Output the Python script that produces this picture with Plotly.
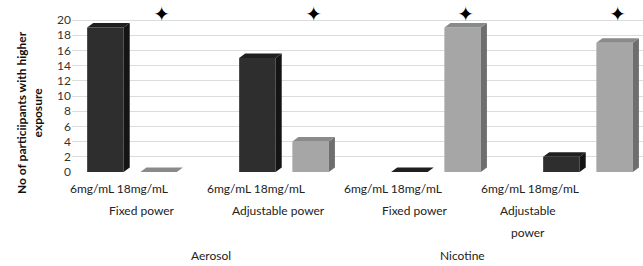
import plotly.graph_objects as go

groups = ["Fixed power", "Adjustable power", "Fixed power", "Adjustable power"]
concentrations = ["6mg/mL", "18mg/mL"]
values_6mg = [19, 15, 0, 2]
values_18mg = [0, 4, 19, 17]
measures = ["Aerosol", "Nicotine"]
star_groups = [0, 1, 2, 3]  # significance stars above 18mg/mL bars
yticks = [0, 2, 4, 6, 8, 10, 12, 14, 16, 18, 20]

W, H = 643, 266
ML, MT, MB = 72, 12, 94
PX_PER_UNIT = 7.6
GROUP_PX = 152.0
G0_PX = 132.0
plot_h = H - MT - MB
ymax = plot_h / PX_PER_UNIT
xmin = (ML - G0_PX) / GROUP_PX
xmax = 3 + (W - (G0_PX + 3 * GROUP_PX)) / GROUP_PX

off = 0.175
bw = 0.24
dx = 0.04
dy = 0.6

styles = {
    0: dict(front="#2e2e2e", side="#141414", top="#1f1f1f"),
    1: dict(front="#a6a6a6", side="#6e6e6e", top="#8a8a8a"),
}

fig = go.Figure()

def add_bar3d(xc, v, st):
    x0, x1 = xc - bw / 2, xc + bw / 2
    fig.add_trace(go.Scatter(x=[x1, x1, x1 + dx, x1 + dx, x1], y=[0, v, v + dy, dy, 0],
                             fill="toself", fillcolor=st["side"], mode="lines",
                             line=dict(width=0), hoverinfo="skip", showlegend=False))
    fig.add_trace(go.Scatter(x=[x0, x1, x1 + dx, x0 + dx, x0], y=[v, v, v + dy, v + dy, v],
                             fill="toself", fillcolor=st["top"], mode="lines",
                             line=dict(width=0), hoverinfo="skip", showlegend=False))

for si, vals in enumerate([values_6mg, values_18mg]):
    xs = [g + (off if si else -off) for g in range(len(groups))]
    fig.add_trace(go.Bar(x=xs, y=vals, width=bw, marker=dict(color=styles[si]["front"], line=dict(width=0)),
                         name=concentrations[si], showlegend=False))
    for xc, v in zip(xs, vals):
        add_bar3d(xc, v, styles[si])

# significance stars
fig.add_trace(go.Scatter(x=[g + off + dx / 2 for g in star_groups], y=[20.5] * len(star_groups),
                         mode="text", text=["✦"] * len(star_groups), cliponaxis=False,
                         textfont=dict(family="DejaVu Sans", size=20, color="black"),
                         showlegend=False, hoverinfo="skip"))

def xd(px):
    return (px - G0_PX) / GROUP_PX

def yp(py):
    return (H - MB - py) / plot_h

font = "Lato, Open Sans, sans-serif"
tc = dict(size=12, color="#222")
ann = []

def lab(px, py, text):
    ann.append(dict(x=xd(px), y=yp(py), xref="x", yref="paper", text=text, showarrow=False,
                    xanchor="center", yanchor="middle", font=tc))

for px in [119, 256, 393, 530]:
    lab(px, 188, " ".join(concentrations))
grp_px = [142, 278, 415, 528]
for i, (px, g) in enumerate(zip(grp_px, groups)):
    if i == len(groups) - 1:
        parts = g.split(" ")
        lab(px, 210, parts[0])
        lab(px, 232, parts[1])
    else:
        lab(px, 210, g)
for px, m in zip([211, 462], measures):
    lab(px, 255, m)
ann.append(dict(x=(29 - ML) / (W - ML), y=yp(113), xref="paper", yref="paper",
                xanchor="center", yanchor="middle",
                text="<b>No of particiipants with higher<br>exposure</b>", textangle=-90,
                showarrow=False, font=dict(size=12, color="#111")))

fig.update_layout(
    width=W, height=H, margin=dict(l=ML, r=0, t=MT, b=MB),
    plot_bgcolor="white", paper_bgcolor="white", barmode="overlay",
    font=dict(family=font, size=12, color="#333"),
    annotations=ann,
    xaxis=dict(range=[xmin, xmax], showticklabels=False, showgrid=False, zeroline=False, fixedrange=True),
    yaxis=dict(range=[0, ymax], tickvals=yticks, showgrid=True, gridcolor="#dcdcdc", gridwidth=1,
               zeroline=False, ticks="", tickfont=dict(size=12, color="#333"), fixedrange=True),
)

fig.write_html("out.html", config={"displayModeBar": False},
               post_script="document.body.style.margin='0';")
